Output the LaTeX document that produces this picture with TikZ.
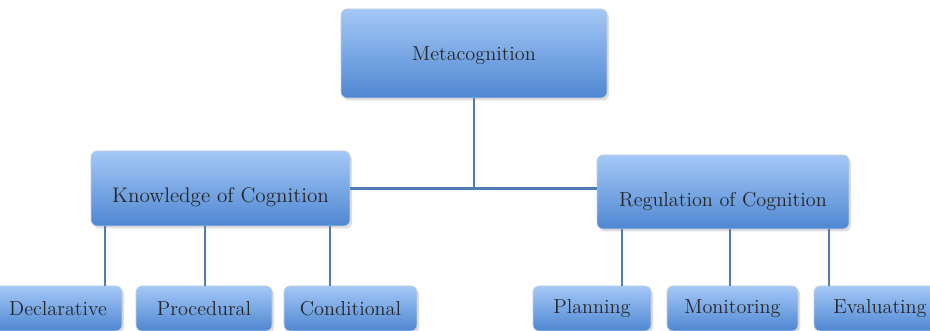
\documentclass[tikz,border=0pt]{standalone}
\usepackage{tikz}
\usetikzlibrary{shadows}

\definecolor{boxtop}{HTML}{A4C8F6}
\definecolor{boxbot}{HTML}{4F87D2}
\definecolor{boxrim}{HTML}{C3CFDF}
\definecolor{linkblue}{HTML}{4E7DB3}

\tikzset{
	box/.style={draw=boxrim, thin, rounded corners=1.2mm, top color=boxtop, bottom color=boxbot,
		drop shadow={opacity=0.25, shadow xshift=0.4mm, shadow yshift=-0.5mm},
		font=\fontsize{11.5}{14}\selectfont, text=black!85, align=center},
	link/.style={draw=linkblue, line width=1.6pt}
}

\begin{document}
\begin{tikzpicture}
		\useasboundingbox (0,0) rectangle (18.6,6.62);
		\clip (0,0) rectangle (18.6,6.62);

		% top level
		\node[box, minimum width=5.32cm, minimum height=1.78cm] (meta) at (9.48,5.55) {};
		\node[text=black!85] at (9.48,5.5) {\fontsize{11.5}{14}\selectfont Metacognition};

		% second level
		\node[box, minimum width=5.18cm, minimum height=1.5cm] (know) at (4.41,2.85) {};
		\node[text=black!85] at (4.41,2.67) {\fontsize{12}{14}\selectfont Knowledge of Cognition};
		\node[box, minimum width=5.04cm, minimum height=1.48cm] (reg) at (14.46,2.78) {};
		\node[text=black!85] at (14.46,2.6) {\fontsize{11.5}{14}\selectfont Regulation of Cognition};

		% third level
		\node[box, minimum width=2.56cm, minimum height=0.9cm] (decl) at (1.16,0.45) {Declarative};
		\node[box, minimum width=2.72cm, minimum height=0.9cm] (proc) at (4.08,0.45) {Procedural};
		\node[box, minimum width=2.66cm, minimum height=0.9cm] (cond) at (7.01,0.45) {Conditional};
		\node[box, minimum width=2.36cm, minimum height=0.9cm] (plan) at (11.84,0.45) {Planning};
		\node[box, minimum width=2.62cm, minimum height=0.9cm] (mon) at (14.65,0.45) {Monitoring};
		\node[box, minimum width=2.64cm, minimum height=0.9cm] (eval) at (17.6,0.45) {Evaluating};

		% where the drop lines leave the boxes
		\coordinate (k1) at (2.1,0);
		\coordinate (k2) at (4.1,0);
		\coordinate (k3) at (6.6,0);
		\coordinate (r1) at (12.44,0);
		\coordinate (r2) at (14.6,0);
		\coordinate (r3) at (16.58,0);

		\draw[link] (meta.south) -- (meta.south |- know.east);
		\draw[link] (know.east) -- (know.east -| reg.west);

		\draw[link] (know.south -| k1) -- (decl.north -| k1);
		\draw[link] (know.south -| k2) -- (proc.north -| k2);
		\draw[link] (know.south -| k3) -- (cond.north -| k3);

		\draw[link] (reg.south -| r1) -- (plan.north -| r1);
		\draw[link] (reg.south -| r2) -- (mon.north -| r2);
		\draw[link] (reg.south -| r3) -- (eval.north -| r3);
	\end{tikzpicture}
\end{document}
